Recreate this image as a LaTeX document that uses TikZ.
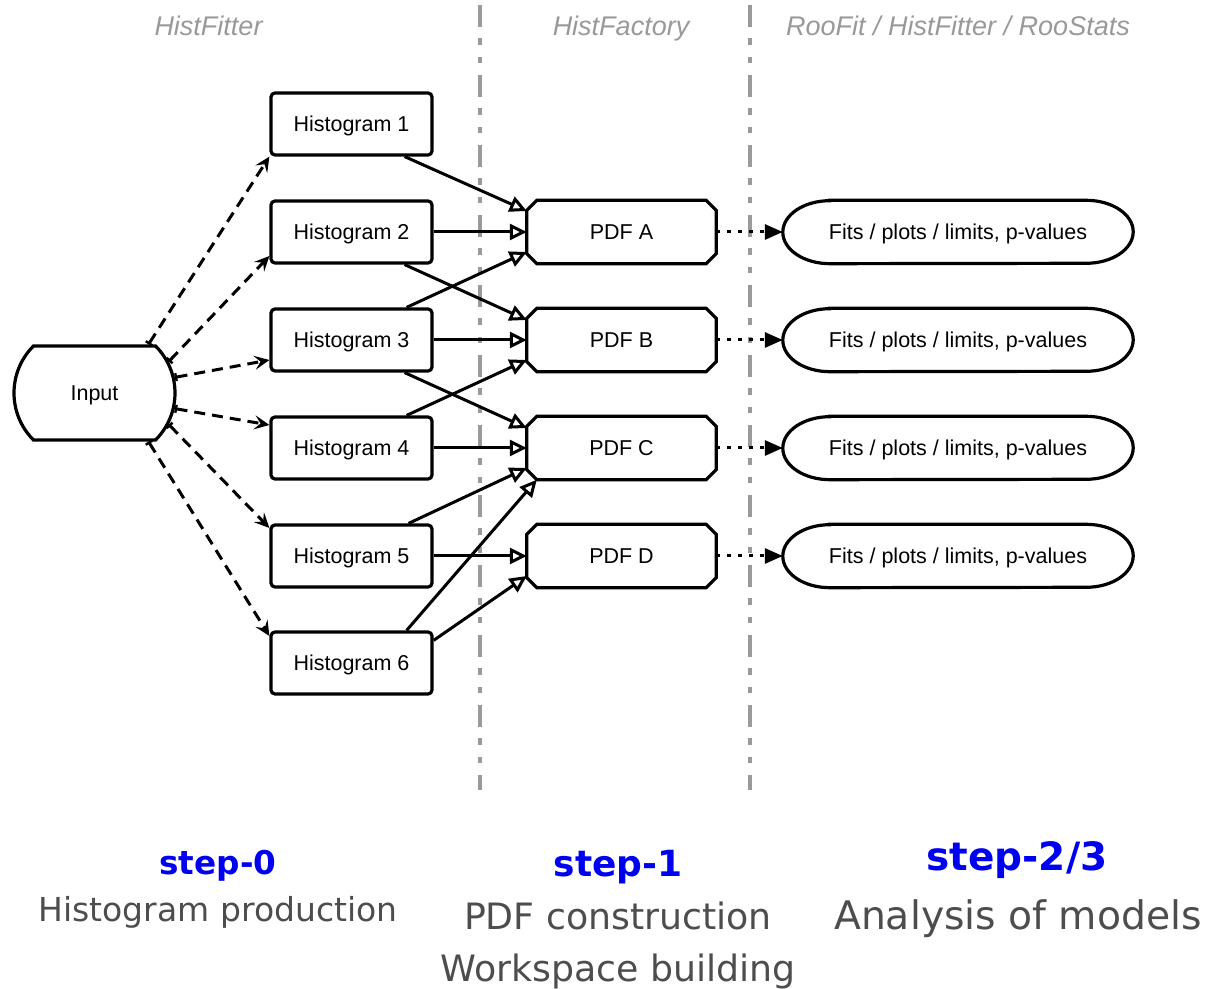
\documentclass[tikz,border=0pt]{standalone}
\usepackage{fontspec}
\setmainfont{Liberation Sans}
\newfontfamily\djv{DejaVu Sans}
\usetikzlibrary{arrows.meta,shapes.misc}
\definecolor{sepgray}{HTML}{9A9A9A}
\definecolor{labgray}{HTML}{999999}
\definecolor{txtgray}{HTML}{4D4D4D}
\definecolor{stepblue}{HTML}{0000F0}
\begin{document}
\begin{tikzpicture}[x=1pt,y=1pt,
  nodefont/.style={font=\fontsize{21.5}{24}\selectfont, text height=16pt, text depth=0pt},
  histbox/.style={draw, line width=3.2pt, rounded corners=4pt, minimum width=161pt, minimum height=62pt, inner sep=0pt, nodefont},
  pdfbox/.style={draw=none, minimum width=189pt, minimum height=63pt, inner sep=0pt, nodefont},
  fitbox/.style={draw=none, minimum width=350pt, minimum height=63pt, inner sep=0pt, nodefont},
  inbox/.style={rounded rectangle, rounded rectangle arc length=90, draw, line width=3.2pt, minimum width=161pt, minimum height=94pt, inner sep=0pt, nodefont},
  outline/.style={line width=3.2pt},
  dasharr/.style={line width=3pt, dash pattern=on 11pt off 7pt, {Bar[width=8pt,line width=2.4pt]}-{Stealth[length=15pt,width=14pt,inset=6pt]}},
  solarr/.style={line width=3pt, -{Triangle[open,length=17pt,width=16pt]}},
  dotarr/.style={line width=3pt, dash pattern=on 4pt off 7pt, -{Triangle[length=18pt,width=15pt]}},
  sepline/.style={line width=3.6pt, sepgray, dash pattern=on 22pt off 11pt on 7pt off 12pt on 6pt off 12pt},
  toplab/.style={font=\fontsize{27}{30}\selectfont\itshape, text=labgray, anchor=base},
  steplab/.style={font=\djv\bfseries, text=stepblue, anchor=base},
  desclab/.style={font=\djv, text=txtgray, anchor=base}
]
\useasboundingbox (0,0) rectangle (1209,988);

% separators
\coordinate (s1t) at (480,983); \coordinate (s1b) at (480,198);
\coordinate (s2t) at (750,983); \coordinate (s2b) at (750,198);
\draw[sepline] (s1t) -- (s1b);
\draw[sepline] (s2t) -- (s2b);

% top labels
\node[toplab] (t1) at (208.5,952) {HistFitter};
\node[toplab] (t2) at (621,952) {HistFactory};
\node[toplab] (t3) at (958,952) {RooFit / HistFitter / RooStats};

% nodes
\node[inbox] (in) at (94.5,595) {Input};
\node[histbox] (h1) at (351.5,864) {Histogram 1};
\node[histbox] (h2) at (351.5,756) {Histogram 2};
\node[histbox] (h3) at (351.5,648) {Histogram 3};
\node[histbox] (h4) at (351.5,540) {Histogram 4};
\node[histbox] (h5) at (351.5,432) {Histogram 5};
\node[histbox] (h6) at (351.5,325) {Histogram 6};

\node[pdfbox] (pa) at (621.5,756) {PDF A};
\node[pdfbox] (pb) at (621.5,648) {PDF B};
\node[pdfbox] (pc) at (621.5,540) {PDF C};
\node[pdfbox] (pd) at (621.5,432) {PDF D};

\node[fitbox] (fa) at (958,756) {Fits / plots / limits, p-values};
\node[fitbox] (fb) at (958,648) {Fits / plots / limits, p-values};
\node[fitbox] (fc) at (958,540) {Fits / plots / limits, p-values};
\node[fitbox] (fd) at (958,432) {Fits / plots / limits, p-values};

% PDF outlines (chamfered)
\foreach \p in {pa,pb,pc,pd}{
  \draw[outline] ([xshift=10pt]\p.north west) -- ([xshift=-10pt]\p.north east) -- ([yshift=-10pt]\p.north east) -- ([yshift=10pt]\p.south east) -- ([xshift=-10pt]\p.south east) -- ([xshift=10pt]\p.south west) -- ([yshift=10pt]\p.south west) -- ([yshift=-10pt]\p.north west) -- cycle;
}
% Fits outlines (elliptic ends)
\foreach \f in {fa,fb,fc,fd}{
  \draw[outline] ([xshift=47pt]\f.north west) -- ([xshift=-47pt]\f.north east) arc[start angle=90,end angle=-90,x radius=47pt,y radius=31.5pt] -- ([xshift=47pt]\f.south west) arc[start angle=270,end angle=90,x radius=47pt,y radius=31.5pt] -- cycle;
}

% Input -> histograms
\draw[dasharr] (in.42) -- (h1.south west);
\draw[dasharr] (in.23) -- ([yshift=-24pt]h2.west);
\draw[dasharr] (in.11) -- ([yshift=-20pt]h3.west);
\draw[dasharr] (in.-11) -- ([yshift=23pt]h4.west);
\draw[dasharr] (in.-23) -- ([yshift=28pt]h5.west);
\draw[dasharr] (in.-42) -- ([yshift=27pt]h6.west);

% histograms -> PDFs
\draw[solarr] ([xshift=-29pt]h1.south east) -- ([yshift=21pt]pa.west);
\draw[solarr] (h2.east) -- (pa.west);
\draw[solarr] ([xshift=-29pt]h2.south east) -- ([yshift=20pt]pb.west);
\draw[solarr] ([xshift=-27pt]h3.north east) -- ([yshift=-20pt]pa.west);
\draw[solarr] (h3.east) -- (pb.west);
\draw[solarr] ([xshift=-29pt]h3.south east) -- ([yshift=20pt]pc.west);
\draw[solarr] ([xshift=-27pt]h4.north east) -- ([yshift=-20pt]pb.west);
\draw[solarr] (h4.east) -- (pc.west);
\draw[solarr] ([xshift=-25pt]h5.north east) -- ([yshift=-20pt]pc.west);
\draw[solarr] (h5.east) -- (pd.west);
\draw[solarr] ([xshift=-27pt]h6.north east) -- ([xshift=10pt]pc.south west);
\draw[solarr] ([yshift=-10pt]h6.north east) -- ([yshift=-20pt]pd.west);

% PDFs -> fits
\draw[dotarr] (pa.east) -- (fa.west);
\draw[dotarr] (pb.east) -- (fb.west);
\draw[dotarr] (pc.east) -- (fc.west);
\draw[dotarr] (pd.east) -- (fd.west);

% bottom labels
\node[steplab, font=\djv\bfseries\fontsize{32.7}{36}\selectfont] (st0) at (218,114) {step-0};
\node[desclab, font=\djv\fontsize{33}{36}\selectfont] (d0) at (218,67) {Histogram production};
\node[steplab, font=\djv\bfseries\fontsize{36}{40}\selectfont] (st1) at (618,112) {step-1};
\node[desclab, font=\djv\fontsize{36.3}{40}\selectfont] (d1) at (618,59) {PDF construction};
\node[desclab, font=\djv\fontsize{36.3}{40}\selectfont] (d1b) at (618,7) {Workspace building};
\node[steplab, font=\djv\bfseries\fontsize{39}{42}\selectfont] (st2) at (1017,118) {step-2/3};
\node[desclab, font=\djv\fontsize{39.3}{42}\selectfont] (d2) at (1018,59) {Analysis of models};
\end{tikzpicture}
\end{document}
